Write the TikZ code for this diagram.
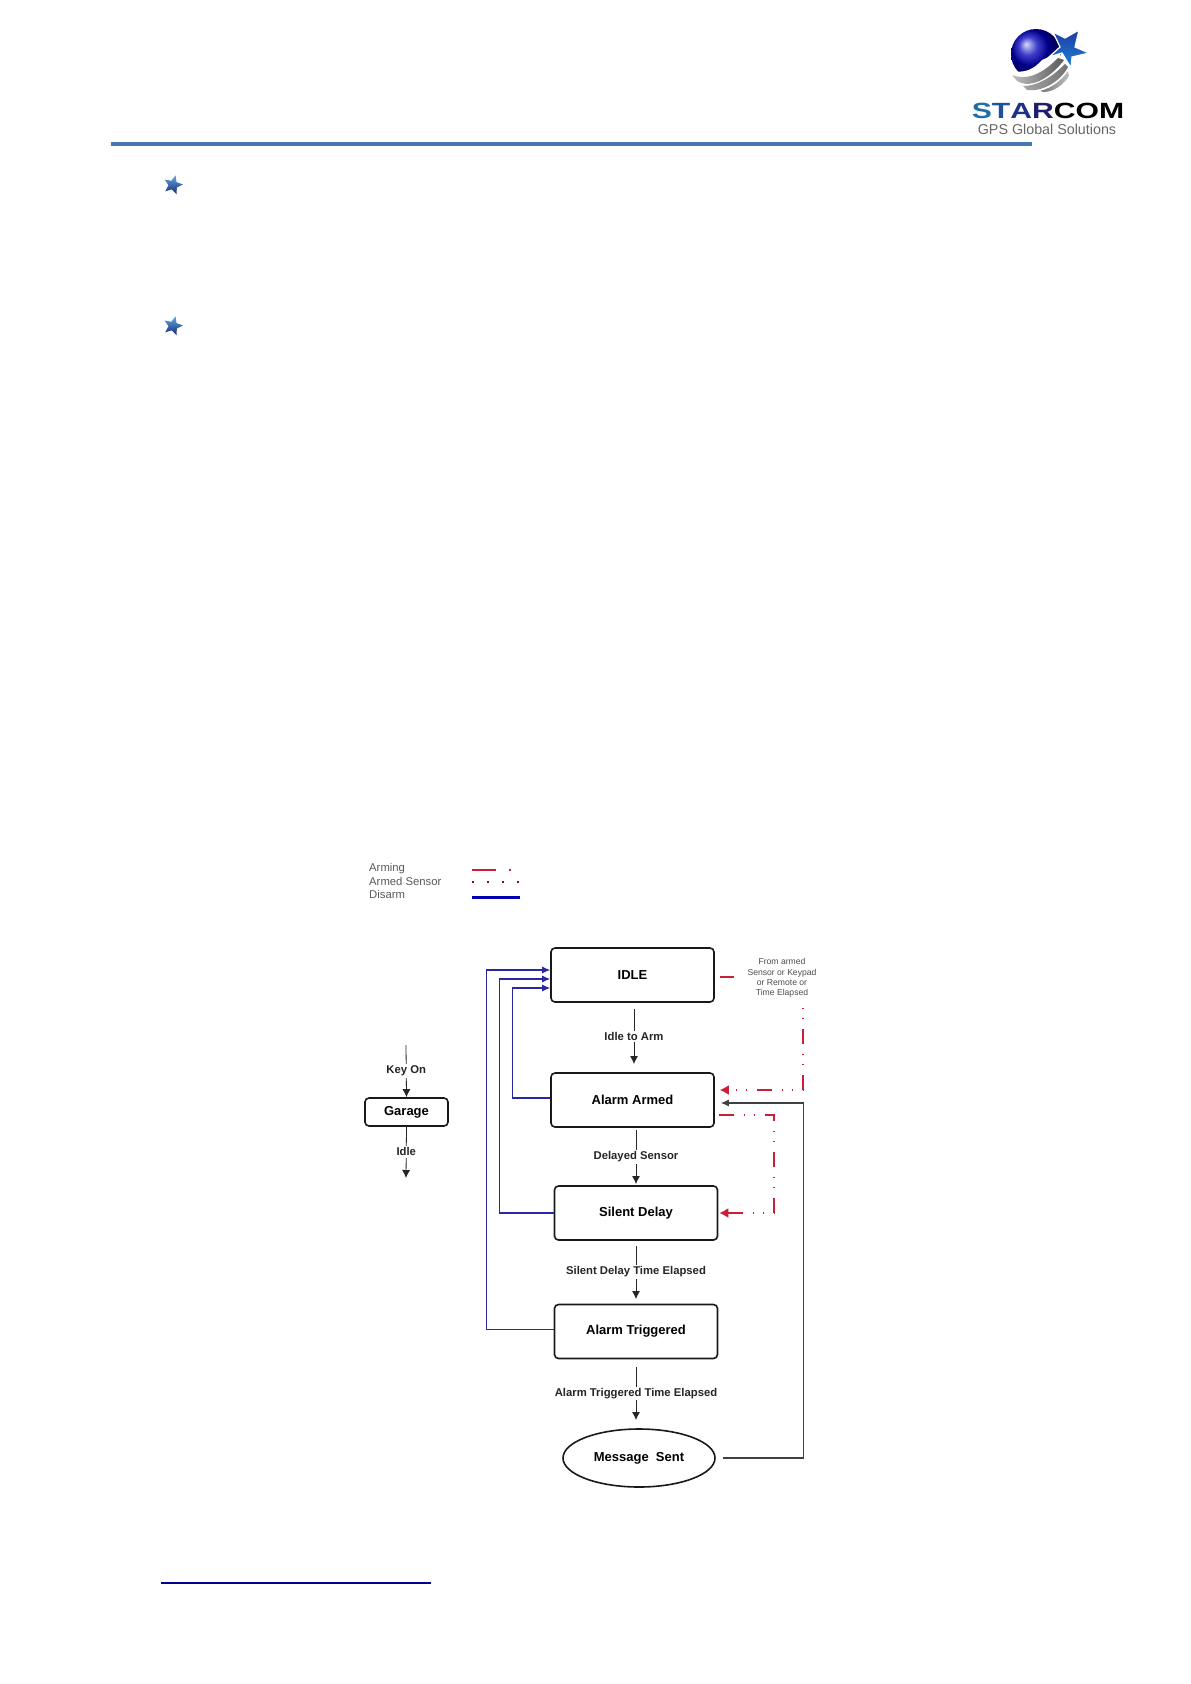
\documentclass[tikz,border=0pt]{standalone}
\usepackage{fontspec}
\setmainfont{Liberation Sans}
\usetikzlibrary{arrows.meta,shapes.geometric}
\definecolor{disarmblue}{RGB}{40,40,165}
\definecolor{armred}{RGB}{205,30,55}
\definecolor{ruleblue}{RGB}{70,120,180}
\definecolor{staredge}{RGB}{30,130,210}
\definecolor{stardark}{RGB}{30,60,165}
\definecolor{brandS}{RGB}{30,110,170}
\definecolor{brandT}{RGB}{30,80,160}
\definecolor{brandA}{RGB}{30,50,140}
\definecolor{brandR}{RGB}{30,30,110}
\tikzset{
  statebox/.style={draw=black!90,line width=1.6pt,rounded corners=4pt,minimum width=163pt,minimum height=54pt,inner sep=0pt,font=\bfseries\fontsize{13}{15}\selectfont},
  stateoval/.style={draw=black!90,line width=1.6pt,ellipse,minimum width=152pt,minimum height=58pt,inner sep=0pt,font=\bfseries\fontsize{13}{15}\selectfont},
  flowlabel/.style={fill=white,inner sep=1.5pt,font=\bfseries\fontsize{11.3}{13}\selectfont,text=black!85},
  flowarrow/.style={draw=black!85,line width=0.8pt,-{Latex[length=8pt,width=8pt]}},
  disarmline/.style={draw=disarmblue,line width=1.1pt,-{Latex[length=8pt,width=7pt]}},
  returnline/.style={draw=black!75,line width=1.1pt,-{Latex[length=8pt,width=7pt]}},
  armline/.style={draw=armred,line width=1.6pt,dash pattern=on 15pt off 10pt on 1pt off 9pt on 1pt off 10pt,-{Latex[length=9pt,width=10pt]}},
  armdash/.style={draw=armred,line width=1.8pt},
  legendtext/.style={anchor=west,inner sep=0pt,text=black!65,font=\fontsize{11.3}{13}\selectfont},
  bulletstar/.style={star,star points=5,star point ratio=2.2,minimum size=20pt,inner sep=0pt,top color=staredge!70!white,bottom color=stardark!70!black,rotate=-15},
}
\begin{document}
\begin{tikzpicture}[x=1pt,y=-1pt]
  \useasboundingbox (0,0) rectangle (1191,1684);

  % Logo
  \shade[ball color=blue!75!black] (1036,54) circle (25);
  \fill[white] (1009,70) .. controls (1025,75) and (1035,68) .. (1042,60) -- (1060,52) -- (1066,84) -- (1009,90) -- cycle;
  \shade[left color=black!25,right color=black!65] (1012,75) .. controls (1030,82) and (1046,70) .. (1058,58) -- (1064,60) .. controls (1052,76) and (1032,90) .. (1017,81) -- cycle;
  \shade[left color=black!35,right color=black!55] (1023,86) .. controls (1040,86) and (1055,74) .. (1065,64) -- (1068,67) .. controls (1060,82) and (1042,92) .. (1027,90) -- cycle;
  \shade[left color=black!55,right color=black!25] (1040,91) .. controls (1052,88) and (1062,80) .. (1068,71) -- (1069,76) .. controls (1064,84) and (1054,92) .. (1044,92) -- cycle;
  \draw[white,line width=1.2pt,top color=stardark,bottom color=staredge] (1053,32) -- (1065,38) -- (1079,30) -- (1075,47) -- (1089,53) -- (1072,57) -- (1071,68) -- (1062,53) -- (1049,57) -- (1060,47) -- cycle;
  \node[inner sep=0pt,xscale=1.37,font=\bfseries\fontsize{22}{24}\selectfont] (brand) at (1048,111) {\textcolor{brandS}{S}\textcolor{brandT}{T}\textcolor{brandA}{A}\textcolor{brandR}{R}COM};
  \node[inner sep=0pt,text=black!60,font=\fontsize{14.3}{16}\selectfont] (slogan) at (1047,129) {GPS Global Solutions};

  % Page rule and bullets
  \fill[ruleblue] (111,142) rectangle (1032,146);
  \node[bulletstar] (starone) at (173,185) {};
  \node[bulletstar] (startwo) at (173,326) {};
  \fill[blue!60!black] (161,1582.3) rectangle (431,1583.7);

  % Legend
  \node[legendtext] (legarming) at (369,868.5) {Arming};
  \node[legendtext] (legsensor) at (369,881) {Armed Sensor};
  \node[legendtext] (legdisarm) at (369,894) {Disarm};
  \coordinate (armingA) at (472,870);
  \coordinate (armingB) at (511,870);
  \coordinate (sensorA) at (472,882);
  \coordinate (sensorB) at (520,882);
  \coordinate (disarmA) at (472,897);
  \coordinate (disarmB) at (520,897);
  \draw[armred,line width=2.6pt,dash pattern=on 24pt off 13pt on 2pt off 20pt] (armingA) -- (armingB);
  \draw[armred!60!black,line width=1.8pt,dash pattern=on 1.8pt off 13.2pt] (sensorA) -- (sensorB);
  \draw[blue!70!black,line width=3pt] (disarmA) -- (disarmB);

  % States
  \node[statebox] (idle) at (632.5,975) {IDLE\hspace{3pt}};
  \node[statebox] (armed) at (632.5,1100) {Alarm Armed};
  \node[statebox] (silent) at (636,1213) {Silent Delay\hspace{2pt}};
  \node[statebox] (trig) at (636,1331.5) {Alarm Triggered};
  \node[stateoval] (msg) at (639,1458) {Message~~Sent\hspace{10pt}};
  \node[statebox,minimum width=83pt,minimum height=28pt] (garage) at (406.5,1112) {Garage};

  % Free ends
  \coordinate (idleout) at (634,1009);
  \coordinate (armin) at (634,1064);
  \coordinate (armout) at (636,1130);
  \coordinate (silentin) at (636,1184);
  \coordinate (silentout) at (636,1246);
  \coordinate (trigin) at (636,1299);
  \coordinate (trigout) at (636,1367);
  \coordinate (msgin) at (636,1420);
  \coordinate (keyon) at (406,1045);
  \coordinate (idleend) at (406,1178);
  \coordinate (fromend) at (734,977);
  \coordinate (fromtop) at (803,1008);

  % Main flow
  \draw[flowarrow] (idleout) -- (armin) node[flowlabel,pos=0.5] (lblidle) {Idle to Arm};
  \draw[flowarrow] (armout) -- (silentin) node[flowlabel,pos=0.5] (lbldelayed) {Delayed Sensor};
  \draw[flowarrow] (silentout) -- (trigin) node[flowlabel,pos=0.49] (lblsilent) {Silent Delay Time Elapsed};
  \draw[flowarrow] (trigout) -- (msgin) node[flowlabel,pos=0.5] (lbltrig) {Alarm Triggered Time Elapsed};
  \draw[flowarrow] (keyon) -- (garage.north) node[flowlabel,pos=0.5] (lblkey) {Key On};
  \draw[flowarrow] (garage.south) -- (idleend) node[flowlabel,pos=0.49] (lblgarage) {Idle};

  % Disarm
  \draw[disarmline] ([yshift=2pt]trig.west) -- ++(-67,0) |- ([yshift=5pt]idle.west);
  \draw[disarmline] (silent.west) -- ++(-54,0) |- ([yshift=-4pt]idle.west);
  \draw[disarmline] ([yshift=2pt]armed.west) -- ++(-38,0) |- ([yshift=-13pt]idle.west);

  % Return from message
  \draw[returnline,shorten <=7pt,shorten >=6pt] (msg.east) -- ++(88,0) |- ([yshift=-3pt]armed.east);

  % Arming and sensor
  \draw[armdash,shorten <=5pt] ([yshift=-2pt]idle.east) -- (fromend);
  \node[inner sep=0pt,align=center,text=black!70,font=\fontsize{8.6}{10.3}\selectfont] (fromnote) at (782,978) {From armed\\Sensor or Keypad\\or Remote or\\Time Elapsed};
  \draw[armline,dash pattern=on 1pt off 9pt on 1pt off 10pt on 15pt off 10pt,shorten >=5pt] (fromtop) |- ([yshift=10pt]armed.east);
  \draw[armline,shorten <=4pt,shorten >=1pt] ([yshift=-15pt]armed.east) -- ++(59,0) |- (silent.east);
\end{tikzpicture}
\end{document}
